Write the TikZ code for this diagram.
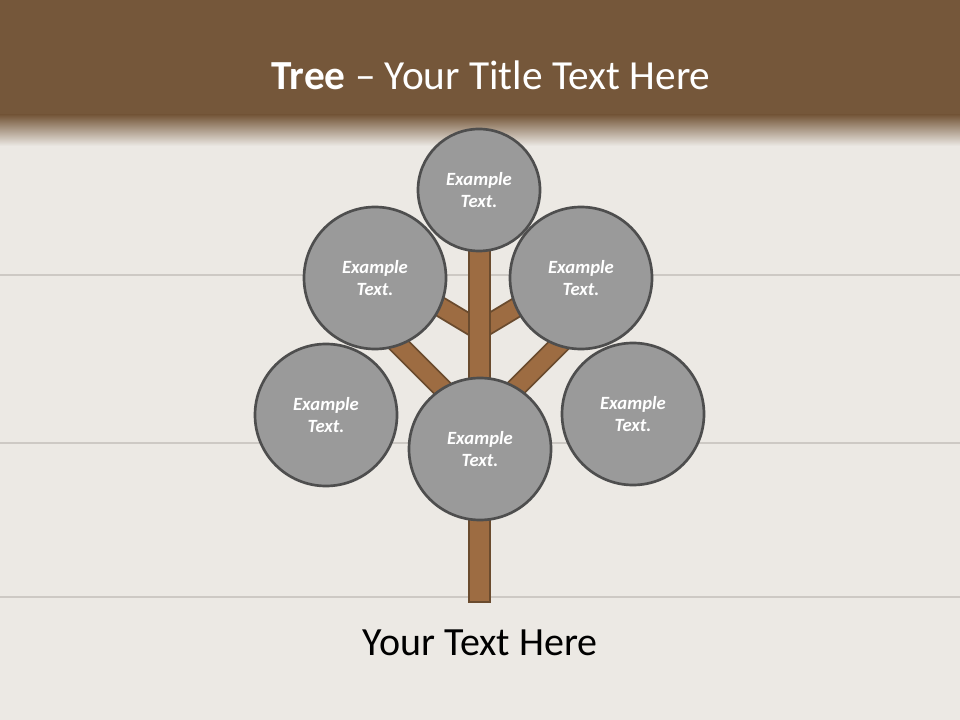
\documentclass[tikz,border=0pt]{standalone}
\usepackage{fontspec}
\setmainfont{Carlito}
\definecolor{bgwood}{HTML}{ECE9E4}
\definecolor{bandbrown}{HTML}{75573A}
\definecolor{plank}{HTML}{CDC9C4}
\definecolor{barkfill}{HTML}{9D6C42}
\definecolor{barkline}{HTML}{6A4B2E}
\definecolor{leaffill}{HTML}{9A9A9A}
\definecolor{leafline}{HTML}{4E4E4E}
\tikzset{
    leaf/.style={circle, draw=leafline, line width=2pt, fill=leaffill,
        minimum size=106.5pt, inner sep=0pt, text=white, align=center,
        font=\fontsize{14}{17}\selectfont\bfseries\itshape},
    branch/.style={draw=barkline, double=barkfill, line width=1.4pt,
        double distance=12.8pt},
}
\begin{document}
\begin{tikzpicture}[x=0.75pt,y=-0.75pt]
    \useasboundingbox (0,0) rectangle (960,720);
    % background
    \fill[bgwood] (-2,-2) rectangle (962,722);
    \fill[bandbrown] (-2,-2) rectangle (962,115);
    \shade[top color=bandbrown, bottom color=bgwood] (-2,115) rectangle (962,146);
    \foreach \py in {275,443,597}
        \draw[plank, line width=1pt] (-2,\py) -- (962,\py);

    \node[text=white, font=\fontsize{31}{37}\selectfont] (title) at (491,75)
        {\textbf{Tree} -- Your Title Text Here};

    % branches
    \coordinate (forkhi) at (479,330);
    \coordinate (forklo) at (479,425);
    \coordinate (endhl) at (389,276);
    \coordinate (endhr) at (569,276);
    \coordinate (endll) at (369,315);
    \coordinate (endlr) at (589,315);
    \draw[branch] (forkhi) -- (endhl);
    \draw[branch] (forkhi) -- (endhr);
    \draw[branch] (forklo) -- (endll);
    \draw[branch] (forklo) -- (endlr);

    % trunk
    \draw[fill=barkfill, draw=barkline, line width=1.4pt] (469,240) rectangle (490,602);

    % leaves
    \node[leaf, minimum size=91.5pt] (crown) at (479,190) {Example\\Text.};
    \node[leaf] (upleft) at (375,278) {Example\\Text.};
    \node[leaf] (upright) at (581,278) {Example\\Text.};
    \node[leaf] (left) at (326,415) {Example\\Text.};
    \node[leaf] (right) at (633,414) {Example\\Text.};
    \node[leaf] (middle) at (480,449) {Example\\Text.};

    \node[font=\fontsize{30}{36}\selectfont] (caption) at (480,643) {Your Text Here};
\end{tikzpicture}
\end{document}
